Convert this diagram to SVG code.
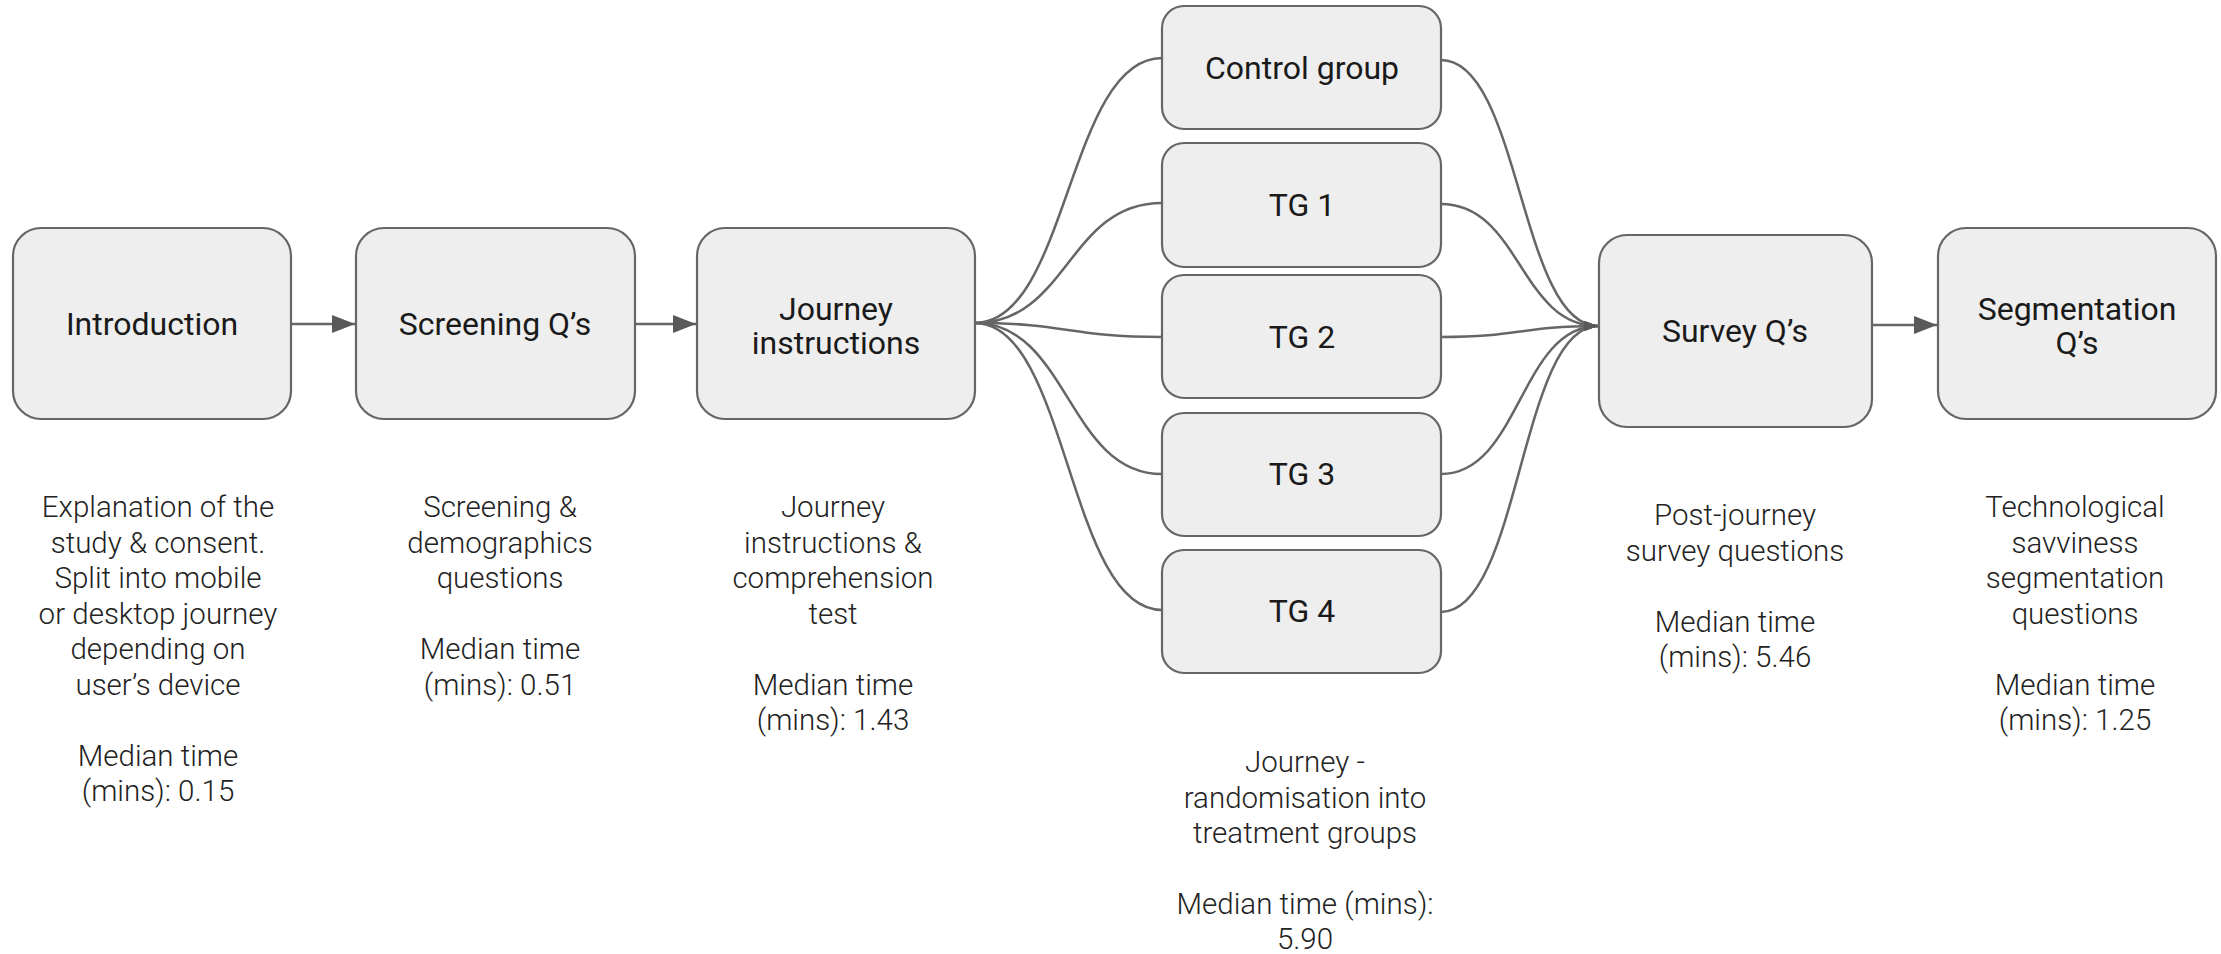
<svg xmlns="http://www.w3.org/2000/svg" width="2221" height="954" viewBox="0 0 2221 954">
<style>
  .box { fill: #eeeeee; stroke: #666666; stroke-width: 2.2; }
  .lbl { font-family: Roboto, "Liberation Sans", sans-serif; font-size: 32px; fill: #1a1a1a; text-anchor: middle; }
  .desc { font-family: Roboto, "Liberation Sans", sans-serif; font-weight: 300; font-size: 29.5px; fill: #222222; text-anchor: middle; }
  .conn { fill: none; stroke: #666666; stroke-width: 2.5; }
</style>
<defs>
  <marker id="arrow" viewBox="0 0 23 18" refX="23" refY="9" markerWidth="23" markerHeight="18" markerUnits="userSpaceOnUse" orient="auto">
    <path d="M0,0 L23,9 L0,18 z" fill="#595959"/>
  </marker>
  <marker id="arrow-small" viewBox="0 0 14 10" refX="14" refY="5" markerWidth="14" markerHeight="10" markerUnits="userSpaceOnUse" orient="auto">
    <path d="M0,0 L14,5 L0,10 z" fill="#595959"/>
  </marker>
</defs>
<rect width="2221" height="954" fill="#ffffff"/>

<g id="connectors">
  <line class="conn" x1="291" y1="324" x2="355" y2="324" marker-end="url(#arrow)"/>
  <line class="conn" x1="635" y1="324" x2="696" y2="324" marker-end="url(#arrow)"/>
  <line class="conn" x1="1873" y1="325" x2="1937" y2="325" marker-end="url(#arrow)"/>
  <path class="conn" d="M975,323 C1068,323 1068,58 1162,58"/>
  <path class="conn" d="M975,323 C1068,323 1068,203 1162,203"/>
  <path class="conn" d="M975,323 C1068,323 1068,337 1162,337"/>
  <path class="conn" d="M975,323 C1068,323 1068,474 1162,474"/>
  <path class="conn" d="M975,323 C1068,323 1068,610 1162,610"/>
  <path class="conn" d="M1441,60 C1520,60 1520,326 1598,326" marker-end="url(#arrow-small)"/>
  <path class="conn" d="M1441,204 C1520,204 1520,326 1598,326" marker-end="url(#arrow-small)"/>
  <path class="conn" d="M1441,337 C1520,337 1520,326 1598,326" marker-end="url(#arrow-small)"/>
  <path class="conn" d="M1441,474 C1520,474 1520,326 1598,326" marker-end="url(#arrow-small)"/>
  <path class="conn" d="M1441,612 C1520,612 1520,326 1598,326" marker-end="url(#arrow-small)"/>
</g>

<g id="introduction">
  <rect class="box" x="13" y="228" width="278" height="191" rx="28"/>
  <text class="lbl" x="152" y="335">Introduction</text>
</g>
<g id="screening">
  <rect class="box" x="356" y="228" width="279" height="191" rx="28"/>
  <text class="lbl" x="495" y="335">Screening Q’s</text>
</g>
<g id="journey-instructions">
  <rect class="box" x="697" y="228" width="278" height="191" rx="28"/>
  <text class="lbl" x="836" y="320">Journey</text>
  <text class="lbl" x="836" y="354">instructions</text>
</g>
<g id="control-group">
  <rect class="box" x="1162" y="6" width="279" height="123" rx="22"/>
  <text class="lbl" x="1302" y="79">Control group</text>
</g>
<g id="tg1">
  <rect class="box" x="1162" y="143" width="279" height="124" rx="22"/>
  <text class="lbl" x="1302" y="216">TG 1</text>
</g>
<g id="tg2">
  <rect class="box" x="1162" y="275" width="279" height="123" rx="22"/>
  <text class="lbl" x="1302" y="348">TG 2</text>
</g>
<g id="tg3">
  <rect class="box" x="1162" y="413" width="279" height="123" rx="22"/>
  <text class="lbl" x="1302" y="485">TG 3</text>
</g>
<g id="tg4">
  <rect class="box" x="1162" y="550" width="279" height="123" rx="22"/>
  <text class="lbl" x="1302" y="622">TG 4</text>
</g>
<g id="survey">
  <rect class="box" x="1599" y="235" width="273" height="192" rx="28"/>
  <text class="lbl" x="1735" y="342">Survey Q’s</text>
</g>
<g id="segmentation">
  <rect class="box" x="1938" y="228" width="278" height="191" rx="28"/>
  <text class="lbl" x="2077" y="320">Segmentation</text>
  <text class="lbl" x="2077" y="354">Q’s</text>
</g>

<g id="descriptions">
  <text class="desc" x="158" y="517">Explanation of the</text>
  <text class="desc" x="158" y="552.5">study &amp; consent.</text>
  <text class="desc" x="158" y="588">Split into mobile</text>
  <text class="desc" x="158" y="623.5">or desktop journey</text>
  <text class="desc" x="158" y="659">depending on</text>
  <text class="desc" x="158" y="694.5">user’s device</text>
  <text class="desc" x="158" y="765.5">Median time</text>
  <text class="desc" x="158" y="801">(mins): 0.15</text>

  <text class="desc" x="500" y="517">Screening &amp;</text>
  <text class="desc" x="500" y="552.5">demographics</text>
  <text class="desc" x="500" y="588">questions</text>
  <text class="desc" x="500" y="659">Median time</text>
  <text class="desc" x="500" y="694.5">(mins): 0.51</text>

  <text class="desc" x="833" y="517">Journey</text>
  <text class="desc" x="833" y="552.5">instructions &amp;</text>
  <text class="desc" x="833" y="588">comprehension</text>
  <text class="desc" x="833" y="623.5">test</text>
  <text class="desc" x="833" y="694.5">Median time</text>
  <text class="desc" x="833" y="730">(mins): 1.43</text>

  <text class="desc" x="1305" y="772">Journey -</text>
  <text class="desc" x="1305" y="807.5">randomisation into</text>
  <text class="desc" x="1305" y="843">treatment groups</text>
  <text class="desc" x="1305" y="914">Median time (mins):</text>
  <text class="desc" x="1305" y="949">5.90</text>

  <text class="desc" x="1735" y="525">Post-journey</text>
  <text class="desc" x="1735" y="560.5">survey questions</text>
  <text class="desc" x="1735" y="631.5">Median time</text>
  <text class="desc" x="1735" y="667">(mins): 5.46</text>

  <text class="desc" x="2075" y="517">Technological</text>
  <text class="desc" x="2075" y="552.5">savviness</text>
  <text class="desc" x="2075" y="588">segmentation</text>
  <text class="desc" x="2075" y="623.5">questions</text>
  <text class="desc" x="2075" y="694.5">Median time</text>
  <text class="desc" x="2075" y="730">(mins): 1.25</text>
</g>
</svg>
